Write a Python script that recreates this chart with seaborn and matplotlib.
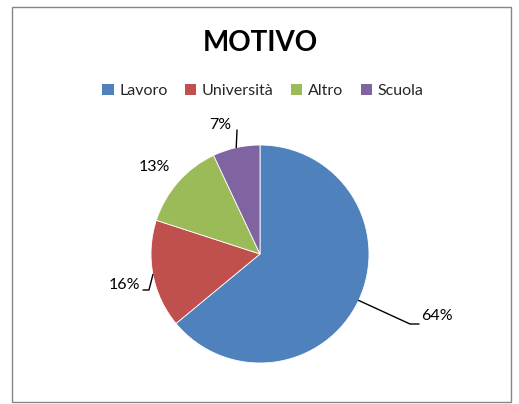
import numpy as np
import matplotlib
matplotlib.use("Agg")
import matplotlib.pyplot as plt
import seaborn as sns
from matplotlib.patches import Rectangle, Patch

sns.set_theme(style="white")
plt.rcParams["font.family"] = ["Lato", "DejaVu Sans"]

# Data
categories = ["Lavoro", "Università", "Altro", "Scuola"]
values = [64, 16, 13, 7]
colors = ["#4F81BD", "#C0504D", "#9BBB59", "#8064A2"]

W, H = 519, 404
fig = plt.figure(figsize=(W / 100, H / 100), dpi=100)
ax = fig.add_axes([0, 0, 1, 1])

# chart frame
fig.patches.append(Rectangle((12 / W, 2 / H), 499 / W, 395 / H, transform=fig.transFigure,
                             fill=False, edgecolor="#868686", linewidth=1.0))

cx, cy, r = 260, 150, 109
wedges, _ = ax.pie(values, colors=colors, startangle=90, counterclock=False,
                   center=(cx, cy), radius=r, frame=True,
                   wedgeprops=dict(edgecolor="white", linewidth=0.6))
ax.set_xlim(0, W)
ax.set_ylim(0, H)
ax.set_aspect("equal")
ax.axis("off")

# label layout (text position, alignment, leader line offsets)
label_layout = [
    dict(txt=(161, -69), ha="left", va="bottom", line=[(150, -70), (159, -70)]),
    dict(txt=(-120, -31), ha="right", va="center", line=[(-111, -36), (-117, -36)]),
    dict(txt=(-106, 87), ha="center", va="center", line=None),
    dict(txt=(-29, 129), ha="right", va="center", line=[(-23, 124)]),
]

for w, v, lay in zip(wedges, values, label_layout):
    ang = np.deg2rad((w.theta1 + w.theta2) / 2)
    ex, ey = cx + r * np.cos(ang), cy + r * np.sin(ang)
    tx, ty = cx + lay["txt"][0], cy + lay["txt"][1]
    ax.text(tx, ty, f"{v}%", ha=lay["ha"], va=lay["va"], fontsize=11.5, color="#000000")
    if lay["line"]:
        xs = [ex] + [cx + p[0] for p in lay["line"]]
        ys = [ey] + [cy + p[1] for p in lay["line"]]
        ax.plot(xs, ys, color="black", linewidth=1.0)

fig.text(260 / W, 1 - 43 / H, "MOTIVO", ha="center", va="center",
         fontsize=20, fontweight="bold", color="black")

handles = [Patch(facecolor=c, edgecolor="none") for c in colors]
fig.legend(handles, categories, loc="center", bbox_to_anchor=(263 / W, 1 - 91 / H),
           ncol=4, frameon=False, fontsize=11.5, handlelength=0.7, handleheight=0.7,
           handletextpad=0.35, columnspacing=1.1)

fig.savefig("out.png", dpi=100, facecolor="white")
